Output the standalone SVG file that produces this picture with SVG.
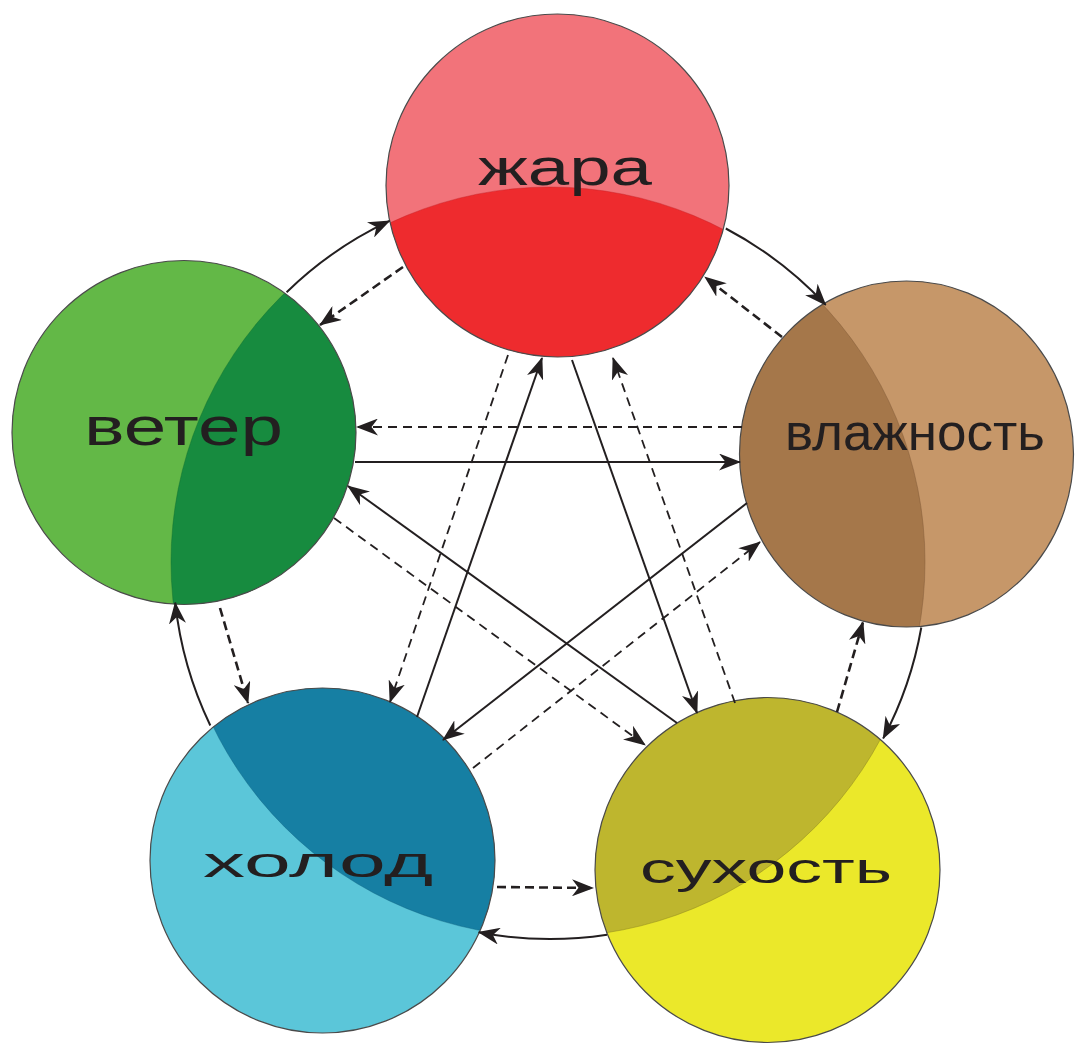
<svg xmlns="http://www.w3.org/2000/svg" width="1076" height="1045" viewBox="0 0 1076 1045">
<style>
  .edge { fill: none; stroke: #231F20; stroke-width: 2; }
  .dash { stroke-dasharray: 9 6; stroke-width: 1.8; }
  .sdash { stroke-dasharray: 9 5; stroke-width: 2.6; }
  .rim { fill: none; stroke: #4a4a4a; stroke-width: 1.2; }
  .lbl { font-family: "Liberation Sans", Arial, sans-serif; fill: #231F20; }
</style>
<defs>
  <marker id="ah" viewBox="0 0 22 17" markerWidth="22" markerHeight="17" refX="21" refY="8.5" orient="auto" markerUnits="userSpaceOnUse">
    <path d="M0,0 L22,8.5 L0,17 L6.5,8.5 z" fill="#231F20"/>
  </marker>
  <clipPath id="c-zhara"><circle cx="557.5" cy="185.5" r="171.5"/></clipPath>
  <clipPath id="c-veter"><circle cx="184" cy="432.5" r="172"/></clipPath>
  <clipPath id="c-vlazh"><ellipse cx="906.5" cy="454" rx="167" ry="173"/></clipPath>
  <clipPath id="c-holod"><circle cx="322.5" cy="860.5" r="172.5"/></clipPath>
  <clipPath id="c-suh"><circle cx="767.5" cy="870" r="172.5"/></clipPath>
</defs>
<rect width="1076" height="1045" fill="#ffffff"/>

<g id="node-zhara">
  <circle cx="557.5" cy="185.5" r="171.5" fill="#F2737A"/>
  <circle cx="550" cy="562" r="375" fill="#EE2B2E" stroke="#c02025" stroke-opacity="0.4" stroke-width="1" clip-path="url(#c-zhara)"/>
  <circle class="rim" cx="557.5" cy="185.5" r="171.5"/>
  <text class="lbl" x="478" y="185" font-size="52" textLength="174" lengthAdjust="spacingAndGlyphs">жара</text>
</g>

<g id="node-veter">
  <circle cx="184" cy="432.5" r="172" fill="#63B847"/>
  <circle cx="546" cy="562" r="375" fill="#178B3F" stroke="#0f6b30" stroke-opacity="0.4" stroke-width="1" clip-path="url(#c-veter)"/>
  <circle class="rim" cx="184" cy="432.5" r="172"/>
  <text class="lbl" x="84" y="445" font-size="54" textLength="199" lengthAdjust="spacingAndGlyphs">ветер</text>
</g>

<g id="node-vlazhnost">
  <ellipse cx="906.5" cy="454" rx="167" ry="173" fill="#C69769"/>
  <circle cx="550" cy="562" r="375" fill="#A5774A" stroke="#7a5634" stroke-opacity="0.4" stroke-width="1" clip-path="url(#c-vlazh)"/>
  <ellipse class="rim" cx="906.5" cy="454" rx="167" ry="173"/>
  <text class="lbl" x="785" y="450" font-size="52" textLength="260" lengthAdjust="spacingAndGlyphs">влажность</text>
</g>

<g id="node-holod">
  <circle cx="322.5" cy="860.5" r="172.5" fill="#5BC6D9"/>
  <circle cx="550" cy="562" r="375" fill="#167FA3" stroke="#0e5f7c" stroke-opacity="0.4" stroke-width="1" clip-path="url(#c-holod)"/>
  <circle class="rim" cx="322.5" cy="860.5" r="172.5"/>
  <text class="lbl" x="203" y="877" font-size="42" textLength="230" lengthAdjust="spacingAndGlyphs">холод</text>
</g>

<g id="node-suhost">
  <circle cx="767.5" cy="870" r="172.5" fill="#EBE82A"/>
  <circle cx="550" cy="562" r="375" fill="#BEB62E" stroke="#8f8820" stroke-opacity="0.5" stroke-width="1" clip-path="url(#c-suh)"/>
  <circle class="rim" cx="767.5" cy="870" r="172.5"/>
  <text class="lbl" x="640" y="883" font-size="43" textLength="252" lengthAdjust="spacingAndGlyphs">сухость</text>
</g>

<g id="connectors">
  <!-- outer solid cycle -->
  <path class="edge" d="M286.6,292.2 A377,377 0 0 1 389.5,220.9" marker-end="url(#ah)"/>
  <path class="edge" d="M725.8,228.5 A377,377 0 0 1 825.7,304.9" marker-end="url(#ah)"/>
  <path class="edge" d="M921.3,627.5 A377,377 0 0 1 883.2,738.4" marker-end="url(#ah)"/>
  <path class="edge" d="M607,934.7 A377,377 0 0 1 478.7,932.2" marker-end="url(#ah)"/>
  <path class="edge" d="M210.3,725.5 A377,377 0 0 1 175.2,602.7" marker-end="url(#ah)"/>
  <!-- short dashed reverse cycle -->
  <path class="edge sdash" d="M403,267 L320,325" marker-end="url(#ah)"/>
  <path class="edge sdash" d="M782,337 L705,277" marker-end="url(#ah)"/>
  <path class="edge sdash" d="M837,712 L863,622" marker-end="url(#ah)"/>
  <path class="edge sdash" d="M497,887 L593,888" marker-end="url(#ah)"/>
  <path class="edge sdash" d="M220,608 L248,703" marker-end="url(#ah)"/>
  <!-- star solid -->
  <path class="edge" d="M355,462 L740,462" marker-end="url(#ah)"/>
  <path class="edge" d="M417,717 L542,358" marker-end="url(#ah)"/>
  <path class="edge" d="M572,360 L697,713" marker-end="url(#ah)"/>
  <path class="edge" d="M747,503 L443,740" marker-end="url(#ah)"/>
  <path class="edge" d="M677,723 L348,486" marker-end="url(#ah)"/>
  <!-- star dashed -->
  <path class="edge dash" d="M742,427 L357,427" marker-end="url(#ah)"/>
  <path class="edge dash" d="M508,355 L390,702" marker-end="url(#ah)"/>
  <path class="edge dash" d="M735,703 L613,358" marker-end="url(#ah)"/>
  <path class="edge dash" d="M473,768 L760,542" marker-end="url(#ah)"/>
  <path class="edge dash" d="M334,518 L645,745" marker-end="url(#ah)"/>
</g>
</svg>
